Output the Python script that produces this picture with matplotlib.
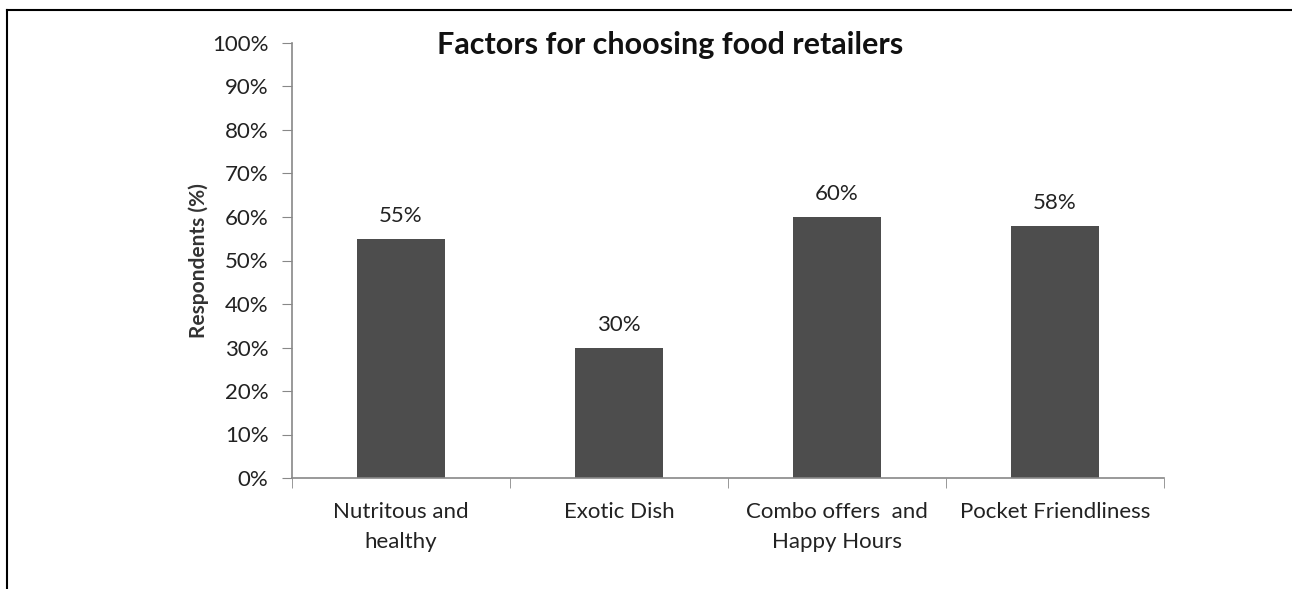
import numpy as np
import matplotlib
matplotlib.use('Agg')
from matplotlib import pyplot as plt
from matplotlib.lines import Line2D

categories = ['Nutritous and\nhealthy', 'Exotic Dish', 'Combo offers  and\nHappy Hours', 'Pocket Friendliness']
values = [55, 30, 60, 58]
yticks = list(range(0, 101, 10))

plt.rcParams['font.family'] = ['Lato', 'DejaVu Sans']

fig = plt.figure(figsize=(12.92, 5.89), dpi=100)
ax = fig.add_axes([292 / 1292, 1 - 478 / 589, (1164 - 292) / 1292, (478 - 43) / 589])

x = np.arange(len(categories))
ax.bar(x, values, width=0.4, color='#4d4d4d', zorder=2)
for xi, v in zip(x, values):
	ax.annotate(str(v) + '%', (xi, v), xytext=(0, 9), textcoords='offset points',
		ha='center', va='bottom', fontsize=16, color='#222222')

ax.set_xlim(-0.5, len(categories) - 0.5)
ax.set_ylim(0, 100)
ax.set_yticks(yticks)
ax.set_yticklabels([str(t) + '%' for t in yticks], fontsize=16, color='#222222')
ax.set_xticks(x)
ax.set_xticklabels(categories, fontsize=16, color='#222222', linespacing=1.65)
ax.tick_params(axis='x', length=0, pad=17)
ax.set_xticks(np.arange(len(categories) + 1) - 0.5, minor=True)
ax.tick_params(axis='x', which='minor', length=7, color='#888888')
ax.tick_params(axis='y', length=7, color='#888888', pad=10)

for side in ['top', 'right']:
	ax.spines[side].set_visible(False)
for side in ['left', 'bottom']:
	ax.spines[side].set_color('#888888')
	ax.spines[side].set_linewidth(1.2)

ax.set_ylabel('Respondents (%)', fontsize=15, fontweight='bold', color='#333333', labelpad=2)
fig.text(670 / 1292, 1 - 45 / 589, 'Factors for choosing food retailers', ha='center', va='center',
	fontsize=22, fontweight='bold', color='#111111')

# frame of the picture: left and top edges
fig.add_artist(Line2D([7 / 1292, 7 / 1292], [0, 1 - 10 / 589], color='black', linewidth=1.5))
fig.add_artist(Line2D([7 / 1292, 1], [1 - 10 / 589, 1 - 10 / 589], color='black', linewidth=1.5))

fig.savefig('out.png', dpi=100)
